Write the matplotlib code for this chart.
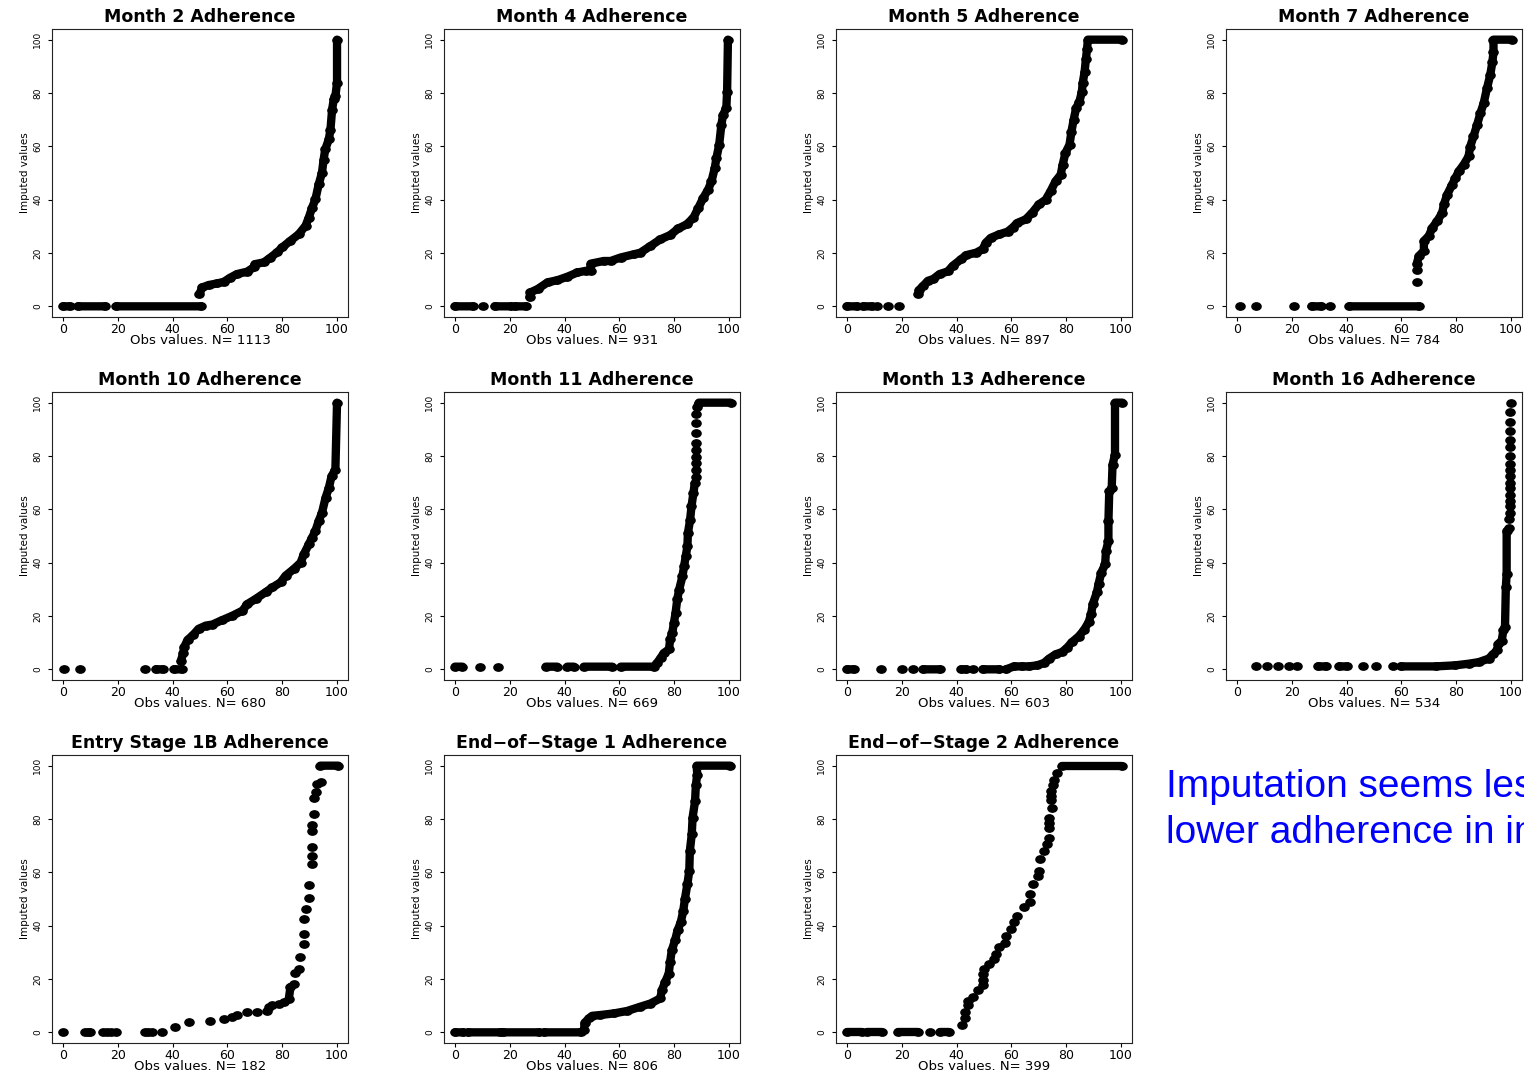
import numpy as np
import matplotlib
matplotlib.use("Agg")
import matplotlib.pyplot as plt
from matplotlib.markers import MarkerStyle
from matplotlib.transforms import Affine2D

# panel titles and number of observed values
titles = ["Month 2 Adherence", "Month 4 Adherence", "Month 5 Adherence", "Month 7 Adherence",
          "Month 10 Adherence", "Month 11 Adherence", "Month 13 Adherence", "Month 16 Adherence",
          "Entry Stage 1B Adherence", "End\u2212of\u2212Stage 1 Adherence", "End\u2212of\u2212Stage 2 Adherence"]
n_obs = [1113, 931, 897, 784, 680, 669, 603, 534, 182, 806, 399]
ticks = [0, 20, 40, 60, 80, 100]

# dense runs of points (None splits runs) and isolated points
m2_run_x = [0, 2.5, None, 5.5, 15.5, None, 19.5, 50.5, None,
            49.8, 50.8, 53.2, 56.3, 58.7, 61.1, 63.5, 67.2, 69.6, 70, 73.3, 75.7, 78.1, 80, 83, 86,
            88.5, 89.7, 90.9, 92.1, 93.3, 94.5, 95.1, 95.7, 97, 97.6, 98.2, 98.8, 99.4, 100, 100]
m2_run_y = [0, 0, None, 0, 0, None, 0, 0, None,
            4.6, 7.1, 8.0, 8.6, 9.2, 10.8, 12.1, 13.0, 14.6, 15.8, 16.5, 18.3, 20.2, 22.1, 24.6, 27,
            30.2, 33.3, 37, 40.1, 45.7, 50.1, 55, 58.9, 62.6, 66.3, 73.8, 77.6, 78.8, 83.8, 100]
m2_dot_x = []
m2_dot_y = []

m4_run_x = [0, 6.5, None, 14.5, 20.5, None, 22, 26, None,
            27.2, 27.5, 30.2, 33.8, 37.4, 41, 44.7, 47.7, 49.5, 49.5, 54.3, 56.8, 60.4, 65.2, 67.6,
            71.3, 74.9, 78.5, 81.5, 84.5, 87, 88.8, 90.6, 92.4, 93.6, 94.8, 95.4, 96.4, 97.2, 97.8,
            99, 99.3, 99.6]
m4_run_y = [0, 0, None, 0, 0, None, 0, 0, None,
            3.4, 5.2, 6.5, 9, 9.8, 11.1, 12.7, 13.3, 13.3, 16, 17, 17, 18.3, 19.5, 20.1,
            22.6, 25.1, 26.7, 29.2, 30.7, 33.2, 36.9, 40.7, 43.8, 46.9, 51.9, 55.6, 60.6, 68, 71.8,
            74.3, 80.5, 100]
m4_dot_x = [10.3]
m4_dot_y = [0]

m5_run_x = [0, 3.5, None, 6, 9, None,
            26, 26.3, 27.8, 29.6, 31.4, 33.8, 36.8, 38.6, 41.7, 43.5, 47.1, 49.5, 50.7, 52.5, 55.6,
            58.6, 60.4, 62.2, 65.2, 67.6, 70, 72.5, 74.3, 76.1, 78, 78.7, 79.7, 81.2, 81.9, 82.7,
            83.6, 84.8, 85.7, 86, 86.7, 87.2, 87.6, 87.9, 100.5]
m5_run_y = [0, 0, None, 0, 0, None,
            4.6, 6.1, 7.7, 9.6, 10.2, 12.1, 13.1, 15.2, 17.7, 19.2, 20.1, 21.4, 23.9, 25.7, 27,
            28, 29.5, 31.3, 32.6, 35.1, 38.2, 40, 43.2, 46.9, 49.4, 53.1, 57.5, 60.6, 65.5, 69.9,
            74.3, 76.7, 80.5, 83.6, 87.9, 92.9, 96.6, 100, 100]
m5_dot_x = [11.1, 15.1, 19.1]
m5_dot_y = [0, 0, 0]

m7_run_x = [27.2, 30.8, None, 41, 66.4, None,
            65.6, 66.4, 68.2, 68.2, 70, 71.3, 73.1, 74.9, 75.5, 76.7, 78.5, 79.7, 80.9, 82.7, 84.5,
            85.1, 86.3, 87.6, 88.8, 90, 91.2, 92.4, 93.2, 93.6, 93.6, 100.5]
m7_run_y = [0, 0, None, 0, 0, None,
            16, 18.9, 20.8, 24.5, 26.4, 29.5, 32, 35.1, 38.2, 41.9, 45.6, 48.1, 50.6, 53.1, 56.2,
            59.9, 63.7, 68, 72.4, 76.1, 81.7, 86.7, 91.7, 95.4, 100, 100]
m7_dot_x = [1.2, 7, 20.8, 33.8, 65.6, 65.6]
m7_dot_y = [0, 0, 0, 0, 9.3, 13.6]

m10_run_x = [33.9, 36.4, None, 40.6, 43.6, None,
             43, 43.9, 44.2, 45.5, 47.3, 49.5, 52.1, 54.5, 58.2, 61.8, 65.5, 67.3, 70.3, 73.9, 76.4,
             79.4, 81.2, 84.2, 86.7, 87.9, 89.7, 90.9, 92.1, 93.3, 94.5, 95.8, 97, 98, 99.4, 100]
m10_run_y = [0, 0, None, 0, 0, None,
             3.1, 6.2, 8.3, 11.1, 12.7, 15.2, 16.4, 16.8, 18.5, 20.1, 22, 24.5, 26.4, 28.9, 30.7,
             32.6, 35.1, 37.6, 40, 43.2, 46.9, 49.4, 51.9, 55.6, 58.7, 64.3, 68, 72.4, 74.9, 100]
m10_dot_x = [0.4, 6.1, 30]
m10_dot_y = [0, 0, 0]

m11_run_x = [0, 2.7, None, 33.1, 37.3, None, 41, 43.4, None, 47, 57.4, None,
             60.5, 72.6, 73.8, 75.1, 76.3, 78.1, 78.5, 79.3, 79.9, 80.5, 81.1, 81.8, 83, 83.6, 84.2,
             84.8, 85, 85.8, 86.3, 87, 87.5, None, 88.4, 89, 100.6]
m11_run_y = [1, 1, None, 1, 1, None, 1, 1, None, 1, 1, None,
             1, 1, 2.5, 4.4, 6.2, 7.5, 11.2, 13.7, 17.5, 21.2, 26.2, 29.9, 34.9, 38.7, 42.4,
             46.1, 51.1, 56.1, 61.1, 66.1, 69.8, None, 98.5, 100, 100]
m11_dot_x = [9, 15.8, 87.8, 87.8, 87.8, 87.8, 87.8, 87.8, 87.8, 87.8, 87.8]
m11_dot_y = [1, 1, 72.3, 74.8, 77.3, 79.8, 82.3, 84.8, 88.8, 92.3, 95.8]

m13_run_x = [0, 2.4, None, 27.8, 33.8, None, 41.7, 43.5, None, 49.5, 55.6, None,
             58, 61, 64, 66.4, 69.4, 71.9, 73.7, 76.1, 78.5, 80.3, 82.1, 84.5, 86.4, 88.2, 89.1,
             89.7, 91.2, 91.8, 92.8, 94.2, 94.5, 95.4, 95.4, 95.7, 96.6, 96.9, 97.8, 97.8, 100.5]
m13_run_y = [0, 0, None, 0, 0, None, 0, 0, None, 0, 0, None,
             0, 1.1, 1.1, 1.1, 1.5, 2.4, 4, 5.6, 6.5, 8.1, 10.2, 12.3, 14.6, 17.7, 20.8,
             24.5, 28.9, 32, 36.3, 39.4, 44.4, 48.1, 55.6, 66.8, 68, 76.7, 80.5, 100, 100]
m13_dot_x = [12.3, 20.2, 24.2, 45.9]
m13_dot_y = [0, 0, 0, 0]

m16_run_x = [29.6, 32.6, None, 37.4, 40.1, None,
             59.8, 72.5, 79.7, 84.5, 88.2, 91.8, 93.6, 94.8, 95.4, 96.6, 97.2, 97.8, 98.1, 98.4, 98.4]
m16_run_y = [1.1, 1.1, None, 1.1, 1.1, None,
             1.1, 1.1, 1.5, 2.1, 2.7, 4, 5.8, 7.1, 9.6, 10.8, 14.6, 15.8, 30.7, 35.7, 51.9]
m16_dot_x = [7, 10.9, 15.1, 19, 22, 45.9, 50.7, 56.8,
             99.4, 99.4, 99.5, 99.5, 99.5, 99.6, 99.6, 99.6, 99.7, 99.7, 99.7, 99.8, 99.8, 99.8,
             99.8, 99.8, 99.8, 99.9]
m16_dot_y = [1.1, 1.1, 1.1, 1.1, 1.1, 1.1, 1.1, 1.1,
             53.1, 56.2, 58.7, 61.2, 63.1, 65.5, 68, 69.9, 72.4, 74.9, 77, 79.9, 83.2, 86.1,
             89.4, 92.9, 96.4, 99.8]

es1b_run_x = [82.4, 83, None, 93.9, 100.5]
es1b_run_y = [12.5, 17, None, 100, 100]
es1b_dot_x = [0, 8, 9, 10, 14.5, 16, 17.5, 19.5, 30, 31, 32.5, 36,
              40.7, 45.9, 53.8, 58.9, 61.7, 63.5, 67.2, 70.8, 74.5, 75.1, 76.3, 78.7, 80.6, 84.2,
              84.8, 86, 86.6, 87.8, 87.8, 88.1, 88.8, 89.7, 89.7, 90.9, 90.9, 90.9, 90.9, 90.9,
              91.7, 91.7, 92.5, 92.7, 94.2]
es1b_dot_y = [0, 0, 0, 0, 0, 0, 0, 0, 0, 0, 0, 0,
              2.1, 3.7, 4.4, 5, 5.6, 6.6, 7.5, 7.7, 8.1, 9.4, 10.2, 10.6, 11.5, 18.1,
              22.4, 23.9, 28.1, 33, 36.8, 42.4, 46.4, 50.5, 55.2, 63, 66.1, 69.6, 75.4, 77.9,
              81.7, 87.9, 90, 93.3, 94]

eos1_run_x = [0, 3, None, 4.8, 16.3, None, 17.5, 30.8, None,
              32.6, 45.9, 47.1, 47.3, 48.9, 50.1, 53.1, 58, 62.8, 67.6, 71.3, 74.9, 75.5, 76.7, 78,
              78.5, 79.1, 80.3, 81.2, 82.4, 83.3, 83.9, 84.8, 85.5, 85.7, 86.4, 86.7, 87.6, 87.9,
              88.4, 88.2, 100.5]
eos1_run_y = [0, 0, None, 0, 0, None, 0, 0, None,
              0, 0, 0.9, 3.6, 5.2, 6.2, 6.5, 7.1, 8, 9.6, 10.8, 12.7, 15.8, 18.9, 22,
              26.4, 30.7, 34.5, 38.2, 41.3, 45.6, 50, 55.6, 60.6, 68, 74.3, 80.5, 86.7, 92.9,
              96.6, 100, 100]
eos1_dot_x = []
eos1_dot_y = []

eos2_run_x = [0, 5.4, None, 7.2, 12.7, None, 18.7, 26, None, 33.8, 37.4, None, 78.3, 100.5]
eos2_run_y = [0, 0, None, 0, 0, None, 0, 0, None, 0, 0, None, 100, 100]
eos2_dot_x = [30.2, 42, 42.9, 43.2, 44.1, 44.1, 45.9, 47.9, 49.8, 49.8, 50.1, 51.9, 53.7, 54.3,
              55.6, 57.7, 58, 59.8, 61, 62.2, 64.6, 66.7, 66.7, 67.9, 69.8, 70, 70.6, 71.8, 73.1,
              73.7, 73.7, 73.7, 74.9, 74.6, 74.6, 75.1, 75.5, 76.7, 49.8, 73.7, 74.6]
eos2_dot_y = [0, 2.7, 5.2, 7.7, 10.2, 11.8, 13.3, 16, 17.7, 22, 23.9, 25.7, 27.6, 29.5,
              32, 33.5, 36.3, 38.8, 41.3, 43.8, 46.9, 48.8, 51.9, 55.6, 58.7, 60.6, 64.9, 68, 70.5,
              73, 76.7, 80.5, 84.2, 87.3, 90.4, 92.9, 94.8, 97.3, 19.8, 78.6, 88.8]

runs_x = [m2_run_x, m4_run_x, m5_run_x, m7_run_x, m10_run_x, m11_run_x, m13_run_x, m16_run_x,
          es1b_run_x, eos1_run_x, eos2_run_x]
runs_y = [m2_run_y, m4_run_y, m5_run_y, m7_run_y, m10_run_y, m11_run_y, m13_run_y, m16_run_y,
          es1b_run_y, eos1_run_y, eos2_run_y]
dots_x = [m2_dot_x, m4_dot_x, m5_dot_x, m7_dot_x, m10_dot_x, m11_dot_x, m13_dot_x, m16_dot_x,
          es1b_dot_x, eos1_dot_x, eos2_dot_x]
dots_y = [m2_dot_y, m4_dot_y, m5_dot_y, m7_dot_y, m10_dot_y, m11_dot_y, m13_dot_y, m16_dot_y,
          es1b_dot_y, eos1_dot_y, eos2_dot_y]

W, H = 1524, 1074
fig = plt.figure(figsize=(W / 100, H / 100), dpi=100)
col_left = [52, 444, 836, 1226]
row_top = [29, 392, 755]
aw, ah = 296, 288

# slightly wide dots, like the stretched original
dot = MarkerStyle("o", transform=Affine2D().scale(1.25, 1.0))
ms = 5.3

for i in range(len(titles)):
    r, c = divmod(i, 4)
    ax = fig.add_axes([col_left[c] / W, 1 - (row_top[r] + ah) / H, aw / W, ah / H])
    rx = np.array(runs_x[i], dtype=float)
    ry = np.array(runs_y[i], dtype=float)
    ax.plot(rx, ry, color="black", lw=6.0, solid_capstyle="round", solid_joinstyle="round")
    ax.plot(rx, ry, ls="none", marker=dot, ms=ms, color="black")
    if len(dots_x[i]) > 0:
        ax.plot(dots_x[i], dots_y[i], ls="none", marker=dot, ms=ms, color="black")

    ax.set_xlim(-4, 104)
    ax.set_ylim(-4, 104)
    ax.set_xticks(ticks)
    ax.set_yticks(ticks)
    ax.tick_params(axis="x", labelsize=9, length=3, width=0.8, pad=1)
    ax.tick_params(axis="y", labelsize=6.5, length=3, width=0.8, pad=4, labelrotation=90)
    for lbl in ax.get_yticklabels():
        lbl.set_va("center")
    for sp in ax.spines.values():
        sp.set_linewidth(0.8)
        sp.set_color("#222222")
    ax.set_title(titles[i], fontsize=12.5, fontweight="bold", pad=5)
    ax.set_xlabel(f"Obs values. N= {n_obs[i]}", fontsize=9.5, labelpad=-1)
    ax.set_ylabel("Imputed values", fontsize=7.5, labelpad=2)

# note on the right, cut at the edge as in the original slide
fig.text(1166 / W, 1 - 797 / H, "Imputation seems less", color="#0000FF", fontsize=28,
         family="Liberation Sans", va="baseline", ha="left")
fig.text(1166 / W, 1 - 843 / H, "lower adherence in imputed", color="#0000FF", fontsize=28,
         family="Liberation Sans", va="baseline", ha="left")

fig.savefig("out.png", dpi=100)
